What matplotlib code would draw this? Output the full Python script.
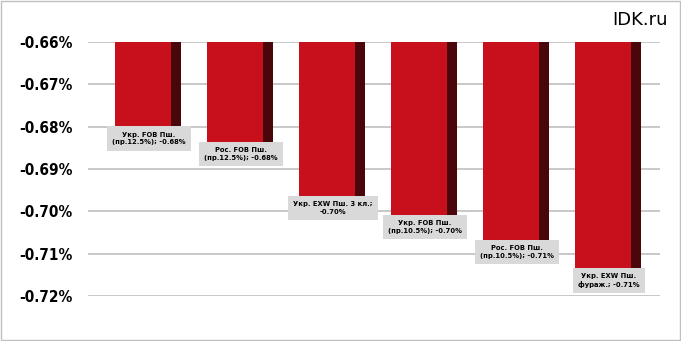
import matplotlib.pyplot as plt
from matplotlib.patches import Rectangle

labels = ["Укр. FOB Пш.\n(пр.12.5%); -0.68%",
          "Рос. FOB Пш.\n(пр.12.5%); -0.68%",
          "Укр. EXW Пш. 3 кл.;\n-0.70%",
          "Укр. FOB Пш.\n(пр.10.5%); -0.70%",
          "Рос. FOB Пш.\n(пр.10.5%); -0.71%",
          "Укр. EXW Пш.\nфураж.; -0.71%"]
values = [-0.680, -0.6836, -0.6964, -0.7009, -0.7068, -0.7134]
base = -0.66
yticks = [-0.66, -0.67, -0.68, -0.69, -0.70, -0.71, -0.72]

fig = plt.figure(figsize=(6.81, 3.41), dpi=100)
ax = fig.add_axes([88 / 681, 1 - 296 / 341, 572 / 681, 254 / 341])

x = list(range(len(values)))
heights = [v - base for v in values]
front_w = 0.61
side_w = 0.11

# dark side face, then red front face
ax.bar([i + front_w / 2 + side_w / 2 - 0.01 for i in x], heights, width=side_w + 0.02,
       bottom=base, color="#4A060A", zorder=2)
ax.bar(x, heights, width=front_w, bottom=base, color="#C8101C", zorder=3)

for i, (lab, v) in enumerate(zip(labels, values)):
    ax.text(i + 0.065, v - 0.0012, lab, ha="center", va="top", fontsize=5.4,
            fontweight="bold", fontstretch="condensed", linespacing=1.35, zorder=4,
            bbox=dict(boxstyle="square,pad=0.7", fc="#D9D9D9", ec="none"))

ax.set_xlim(-0.598, 5.619)
ax.set_ylim(-0.72, -0.66)
ax.set_yticks(yticks)
ax.set_yticklabels([f"{t:.2f}%" for t in yticks], fontsize=11, fontweight="bold",
                   fontstretch="condensed")
ax.yaxis.grid(True, color="#BFBFBF", linewidth=1.2)
ax.set_axisbelow(True)
ax.tick_params(axis="y", length=0, pad=11)
ax.set_xticks([])
for s in ax.spines.values():
    s.set_visible(False)

fig.text(668 / 681, 1 - 20 / 341, "IDK.ru", ha="right", va="center", fontsize=13)
fig.patches.append(Rectangle((0.001, 0.002), 0.997, 0.995, transform=fig.transFigure,
                             fill=False, ec="#BFBFBF", lw=1))

fig.savefig("out.png", dpi=100)
